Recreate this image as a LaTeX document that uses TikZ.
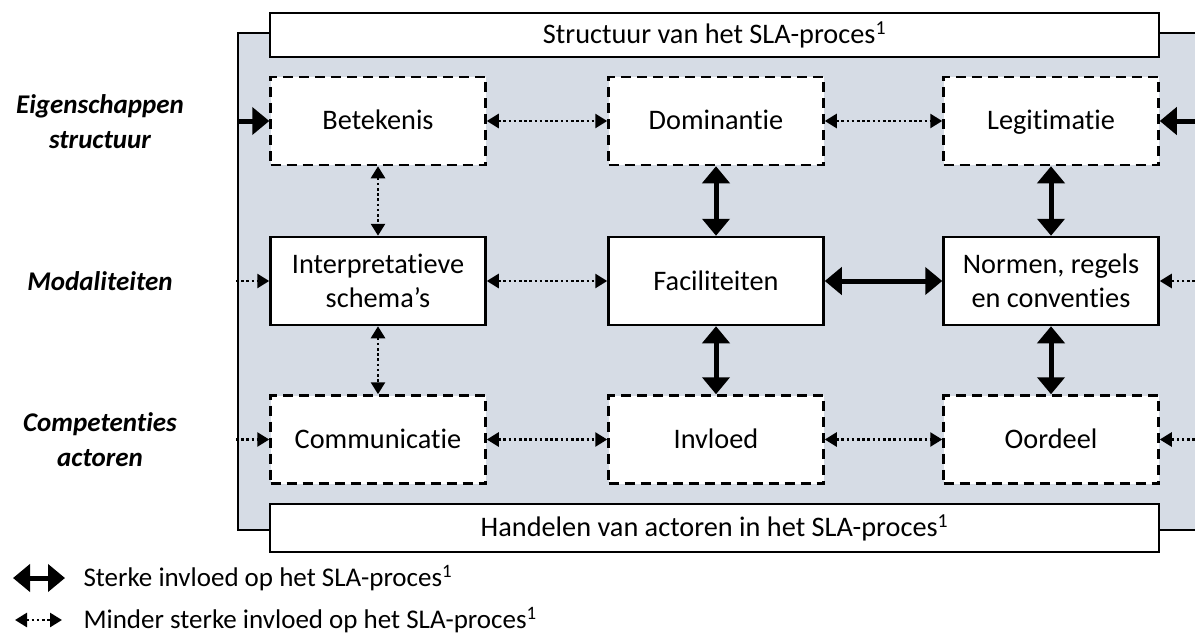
\documentclass[tikz,border=0pt]{standalone}
\usepackage{fontspec}
\setmainfont[Ligatures=NoCommon]{Carlito}
\usetikzlibrary{arrows.meta,positioning,backgrounds}
\definecolor{panelgray}{RGB}{214,220,229}
\newcommand{\boxfont}{\fontsize{28.3}{34}\selectfont}
\tikzstyle{box}=[draw,line width=2.5pt,fill=white,minimum width=215pt,minimum height=88pt,align=center,inner sep=0pt,font=\boxfont]
\tikzstyle{oneline}=[text height=20pt,text depth=3pt]
\tikzstyle{dashbox}=[box,oneline,dash pattern=on 10pt off 6pt]
\tikzstyle{band}=[draw,line width=2.5pt,fill=white,inner sep=0pt,minimum width=889pt,font=\boxfont,oneline]
\tikzstyle{strong}=[line width=5pt,>={Triangle[width=27pt,length=17pt]},<->]
\tikzstyle{weak}=[line width=2.6pt,dash pattern=on 2.6pt off 2.6pt,>={Triangle[width=14pt,length=12pt]},<->]
\tikzstyle{rowlabel}=[align=center,font=\fontsize{27}{35}\selectfont\bfseries\itshape]

\begin{document}
\begin{tikzpicture}[x=1pt,y=-1pt,font=\fontsize{27}{34}\selectfont]
            \useasboundingbox (0,0) rectangle (1195,634);
            % grey panel, runs off the right edge
            \filldraw[fill=panelgray,line width=2.5pt] (1210,33) -- (238,33) -- (238,530) -- (1210,530);
            \node[band,minimum height=44pt] (struct) at (714.5,35) {Structuur van het SLA-proces\textsuperscript{1}};
            \node[band,minimum height=48pt] (handel) at (714.5,528) {Handelen van actoren in het SLA-proces\textsuperscript{1}};
            % structuur
            \node[dashbox] (betekenis) at (378,121) {Betekenis};
            \node[dashbox] (dominantie) at (716,121) {Dominantie};
            \node[dashbox] (legitimatie) at (1051,121) {Legitimatie};
            % modaliteiten
            \node[box] (interp) at (378,281) {Interpretatieve\\schema’s};
            \node[box] (facil) at (716,281) {Faciliteiten};
            \node[box] (normen) at (1051,281) {Normen, regels\\en conventies};
            % actoren
            \node[dashbox] (communicatie) at (378,439.5) {Communicatie};
            \node[dashbox] (invloed) at (716,439.5) {Invloed};
            \node[dashbox] (oordeel) at (1051,439.5) {Oordeel};
            \node[rowlabel] (eig) at (100,122) {Eigenschappen\\structuur};
            \node[rowlabel] (mod) at (100,281) {Modaliteiten};
            \node[rowlabel] (comp) at (100,440) {Competenties\\actoren};
            % free ends at the panel edges
            \coordinate (inL1) at (238,121);
            \coordinate (inL2) at (236,281);
            \coordinate (inL3) at (236,439.5);
            \coordinate (inR1) at (1200,121);
            \coordinate (inR2) at (1200,281);
            \coordinate (inR3) at (1200,439.5);
            \draw[strong,->] (inL1) -- (betekenis.west);
            \draw[weak,->] (inL2) -- (interp.west);
            \draw[weak,->] (inL3) -- (communicatie.west);
            \draw[strong,->] (inR1) -- (legitimatie.east);
            \draw[weak,->] (inR2) -- (normen.east);
            \draw[weak,->] (inR3) -- (oordeel.east);
            \draw[weak] (betekenis) -- (dominantie);
            \draw[weak] (dominantie) -- (legitimatie);
            \draw[weak] (interp) -- (facil);
            \draw[strong] (facil) -- (normen);
            \draw[weak] (communicatie) -- (invloed);
            \draw[weak] (invloed) -- (oordeel);
            \draw[weak] (betekenis) -- (interp);
            \draw[weak] (interp) -- (communicatie);
            \draw[strong] (dominantie) -- (facil);
            \draw[strong] (facil) -- (invloed);
            \draw[strong] (legitimatie) -- (normen);
            \draw[strong] (normen) -- (oordeel);
            % legenda
            \coordinate (sA) at (13,578);
            \coordinate (sB) at (65,578);
            \coordinate (wA) at (15,620);
            \coordinate (wB) at (62,620);
            \draw[strong] (sA) -- (sB);
            \draw[weak] (wA) -- (wB);
            \node[anchor=west] (sterk) at (80,578) {Sterke invloed op het SLA-proces\textsuperscript{1}};
            \node[anchor=west] (minder) at (80,620) {Minder sterke invloed op het SLA-proces\textsuperscript{1}};
        \end{tikzpicture}
\end{document}
